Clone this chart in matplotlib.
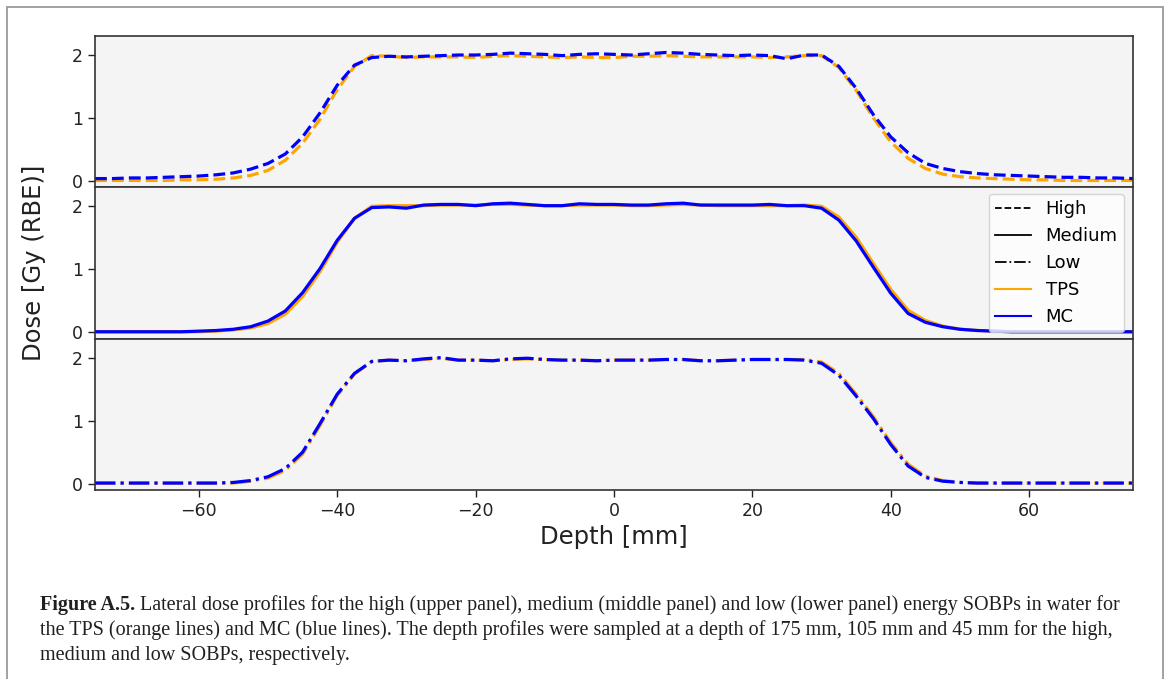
import numpy as np
import matplotlib as mpl
import matplotlib.pyplot as plt
from matplotlib.lines import Line2D
from matplotlib.patches import Rectangle

mpl.rcParams.update({
    "font.family": "DejaVu Sans",
    "axes.edgecolor": "#333333",
    "axes.linewidth": 1.2,
})

TPS_C = "orange"
MC_C = "blue"
PANEL_BG = "#f4f4f4"

# lateral position [mm]
depth = [-75, -72.5, -70, -67.5, -65, -62.5, -60, -57.5, -55, -52.5,
         -50, -47.5, -45, -42.5, -40, -37.5, -35, -32.5, -30, -27.5,
         -25, -22.5, -20, -17.5, -15, -12.5, -10, -7.5, -5, -2.5,
         0, 2.5, 5, 7.5, 10, 12.5, 15, 17.5, 20, 22.5,
         25, 27.5, 30, 32.5, 35, 37.5, 40, 42.5, 45, 47.5,
         50, 52.5, 55, 57.5, 60, 62.5, 65, 67.5, 70, 72.5, 75]

high_mc = [0.04, 0.04, 0.05, 0.05, 0.06, 0.07, 0.08, 0.10, 0.13, 0.19,
           0.28, 0.43, 0.70, 1.08, 1.52, 1.84, 1.96, 1.98, 1.97, 1.98,
           1.99, 2.00, 2.00, 2.01, 2.03, 2.02, 2.01, 1.99, 2.01, 2.02,
           2.01, 2.00, 2.02, 2.04, 2.03, 2.01, 2.00, 1.99, 2.00, 1.99,
           1.94, 2.00, 2.00, 1.82, 1.47, 1.05, 0.70, 0.45, 0.28, 0.20,
           0.15, 0.12, 0.10, 0.09, 0.08, 0.07, 0.06, 0.06, 0.05, 0.05, 0.04]
high_tps = [0.01, 0.01, 0.01, 0.01, 0.01, 0.02, 0.02, 0.03, 0.05, 0.09,
            0.17, 0.33, 0.60, 0.98, 1.45, 1.82, 1.99, 1.98, 1.96, 1.97,
            1.97, 1.97, 1.96, 1.98, 1.99, 1.98, 1.97, 1.96, 1.97, 1.96,
            1.96, 1.98, 1.98, 1.99, 1.98, 1.97, 1.97, 1.97, 1.97, 1.96,
            1.97, 1.99, 1.99, 1.80, 1.44, 1.00, 0.62, 0.36, 0.20, 0.11,
            0.07, 0.05, 0.04, 0.03, 0.02, 0.02, 0.01, 0.01, 0.01, 0.01, 0.01]

med_mc = [0.01, 0.01, 0.01, 0.01, 0.01, 0.01, 0.02, 0.03, 0.05, 0.09,
          0.18, 0.34, 0.63, 1.01, 1.46, 1.81, 1.98, 1.99, 1.97, 2.02,
          2.03, 2.03, 2.01, 2.04, 2.05, 2.03, 2.01, 2.01, 2.04, 2.03,
          2.03, 2.02, 2.02, 2.04, 2.05, 2.02, 2.02, 2.02, 2.02, 2.03,
          2.01, 2.01, 1.97, 1.78, 1.45, 1.03, 0.62, 0.30, 0.16, 0.09,
          0.05, 0.03, 0.02, 0.01, 0.01, 0.01, 0.01, 0.01, 0.01, 0.01, 0.01]
med_tps = [0.01, 0.01, 0.01, 0.01, 0.01, 0.01, 0.01, 0.02, 0.04, 0.07,
           0.14, 0.29, 0.57, 0.96, 1.43, 1.81, 2.00, 2.01, 2.01, 2.01,
           2.02, 2.02, 2.02, 2.03, 2.03, 2.02, 2.01, 2.01, 2.02, 2.02,
           2.02, 2.01, 2.01, 2.02, 2.03, 2.02, 2.01, 2.01, 2.01, 2.01,
           2.01, 2.02, 2.00, 1.83, 1.51, 1.09, 0.68, 0.35, 0.19, 0.10,
           0.05, 0.03, 0.02, 0.01, 0.01, 0.01, 0.01, 0.01, 0.01, 0.01, 0.01]

low_mc = [0.01, 0.01, 0.01, 0.01, 0.01, 0.01, 0.01, 0.01, 0.02, 0.05,
          0.11, 0.24, 0.50, 0.95, 1.42, 1.75, 1.94, 1.96, 1.95, 1.98,
          2.00, 1.96, 1.96, 1.95, 1.98, 1.99, 1.97, 1.96, 1.96, 1.95,
          1.96, 1.96, 1.96, 1.97, 1.97, 1.95, 1.95, 1.96, 1.97, 1.97,
          1.97, 1.96, 1.91, 1.72, 1.39, 1.03, 0.62, 0.28, 0.10, 0.04,
          0.02, 0.01, 0.01, 0.01, 0.01, 0.01, 0.01, 0.01, 0.01, 0.01, 0.01]
low_tps = [0.01, 0.01, 0.01, 0.01, 0.01, 0.01, 0.01, 0.01, 0.01, 0.04,
           0.09, 0.21, 0.47, 0.92, 1.40, 1.74, 1.94, 1.96, 1.95, 1.97,
           1.99, 1.96, 1.96, 1.95, 1.97, 1.98, 1.97, 1.96, 1.96, 1.95,
           1.96, 1.96, 1.96, 1.97, 1.97, 1.95, 1.95, 1.96, 1.97, 1.97,
           1.97, 1.97, 1.93, 1.75, 1.42, 1.06, 0.65, 0.31, 0.12, 0.05,
           0.02, 0.01, 0.01, 0.01, 0.01, 0.01, 0.01, 0.01, 0.01, 0.01, 0.01]

panels = [("--", high_tps, high_mc), ("-", med_tps, med_mc), ("-.", low_tps, low_mc)]

fig = plt.figure(figsize=(11.7, 6.79), dpi=100)

# grey frame of the journal figure box (open at the bottom)
fig.add_artist(Rectangle((7 / 1170, -0.05), 1156 / 1170, 1.05 - 7 / 679,
                         transform=fig.transFigure, fill=False,
                         edgecolor="#9a9a9a", linewidth=1.3))

left, width = 95 / 1170, 1038 / 1170
ph = 151.3 / 679
bottom0 = 1 - 490 / 679
axes = []
for k, (ls, tps, mc) in enumerate(panels):
    ax = fig.add_axes([left, bottom0 + (2 - k) * ph, width, ph])
    ax.set_facecolor(PANEL_BG)
    ax.plot(depth, tps, color=TPS_C, ls=ls, lw=2.3)
    ax.plot(depth, mc, color=MC_C, ls=ls, lw=2.3)
    ax.set_xlim(-75, 75)
    ax.set_ylim(-0.1, 2.3)
    ax.set_yticks([0, 1, 2])
    ax.tick_params(labelsize=12.5, colors="#222222", width=1.0, length=5)
    if k < 2:
        ax.tick_params(axis="x", bottom=False, labelbottom=False)
    axes.append(ax)

axes[2].set_xticks([-60, -40, -20, 0, 20, 40, 60])
axes[2].set_xlabel("Depth [mm]", fontsize=17.5, color="#222222")
axes[1].set_ylabel("Dose [Gy (RBE)]", fontsize=17.5, color="#222222", labelpad=19)

handles = [Line2D([], [], color="black", ls="--", lw=1.3, label="High"),
           Line2D([], [], color="black", ls="-", lw=1.3, label="Medium"),
           Line2D([], [], color="black", ls="-.", lw=1.3, label="Low"),
           Line2D([], [], color=TPS_C, lw=1.5, label="TPS"),
           Line2D([], [], color=MC_C, lw=1.5, label="MC")]
axes[1].legend(handles=handles, loc="center right", fontsize=13,
               labelspacing=0.5, borderpad=0.35)

# caption
cap_kw = dict(family="Liberation Serif", fontsize=14.5, color="#231f20", va="bottom")
t1 = fig.text(40 / 1170, 1 - 615 / 679, "Figure A.5.", fontweight="bold", **cap_kw)
axes[2].annotate(" Lateral dose profiles for the high (upper panel), medium (middle panel) "
                 "and low (lower panel) energy SOBPs in water for",
                 xy=(1, 0), xycoords=t1, ha="left", annotation_clip=False, **cap_kw)
fig.text(40 / 1170, 1 - 640 / 679,
         "the TPS (orange lines) and MC (blue lines). The depth profiles were sampled "
         "at a depth of 175 mm, 105 mm and 45 mm for the high,", **cap_kw)
fig.text(40 / 1170, 1 - 665 / 679, "medium and low SOBPs, respectively.", **cap_kw)

plt.savefig("out.png", dpi=100)
plt.close()
